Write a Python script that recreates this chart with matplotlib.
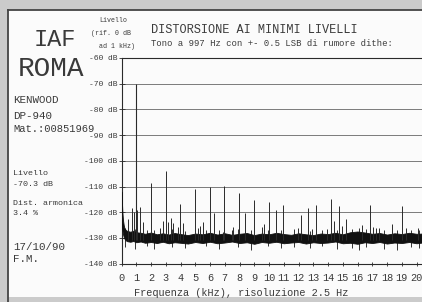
import matplotlib
matplotlib.use("Agg")
import matplotlib.pyplot as plt
from matplotlib.patches import Rectangle

plt.rcParams['font.family'] = ['Liberation Mono', 'DejaVu Sans Mono']

# --- data ---
fund_f = 0.997
fund_db = -70.3

# spurs: frequency (kHz) and peak level (dB)
spur_f = [0.46, 0.69, 0.85, 1.07, 1.25, 1.44, 1.994, 2.61, 2.79, 2.991, 3.18, 3.36,
          3.51, 3.81, 3.988, 4.15, 4.985, 5.16, 5.32, 5.5, 5.982, 6.27, 6.9, 6.979,
          7.47, 7.58, 7.976, 8.37, 8.973, 9.5, 9.68, 9.97, 10.47, 10.967, 11.96,
          12.17, 12.62, 12.94, 13.2, 13.95, 14.2, 14.43, 14.72, 14.97, 15.22, 16.28,
          16.87, 17.03, 17.25, 17.48, 18.32, 19.0, 19.29, 20.08, 20.35]
spur_db = [-122.8, -118.5, -119.8, -119.1, -117.9, -123.7, -108.5, -126.3, -123.5, -104.0, -123.7, -122.4,
           -124.3, -125.6, -117.0, -124.3, -111.0, -126.3, -125.4, -123.7, -110.3, -120.2, -127.6, -109.7,
           -127.0, -125.6, -112.7, -120.2, -115.4, -125.8, -124.5, -115.9, -119.1, -117.2, -126.0,
           -121.0, -118.2, -126.7, -117.2, -126.7, -115.0, -123.4, -117.6, -125.4, -122.5, -125.0,
           -117.2, -125.7, -126.3, -126.3, -124.5, -117.6, -126.3, -126.3, -120.6]

# noise floor envelope
noise_f = [0, 0.03, 0.06, 0.1, 0.15, 0.2, 0.3, 0.4, 0.6, 0.8, 1.0, 1.3, 1.6, 2.0, 2.4,
           2.8, 3.2, 3.6, 4.0, 4.5, 5.0, 5.5, 6.0, 6.5, 7.0, 7.5, 8.0, 8.5, 9.0, 9.5,
           10.0, 10.5, 11.0, 11.5, 12.0, 12.5, 13.0, 13.5, 14.0, 14.5, 15.0, 15.5, 16.0,
           16.5, 17.0, 17.5, 18.0, 18.5, 19.0, 19.5, 20.0, 20.4]
noise_hi = [-112.0, -116.0, -120.0, -123.0, -125.0, -126.2, -127.0, -127.3, -127.6, -127.2, -127.8, -128.0, -128.4, -127.9, -128.6,
            -128.2, -128.7, -128.1, -128.5, -128.9, -128.3, -128.6, -128.0, -128.7, -128.2, -128.8, -128.4, -128.1, -128.9, -128.3,
            -128.6, -128.0, -128.5, -128.8, -128.2, -128.6, -128.9, -128.3, -128.5, -128.0, -128.6, -127.8, -127.5,
            -127.9, -128.4, -128.1, -128.7, -128.2, -128.5, -128.0, -128.4, -128.3]
noise_lo = [-122.0, -125.0, -127.0, -128.5, -129.6, -130.3, -131.0, -131.3, -131.5, -131.2, -131.7, -131.4, -131.9, -131.6, -132.0,
            -131.5, -132.1, -131.7, -131.9, -132.2, -131.6, -132.0, -131.5, -132.1, -131.8, -131.4, -132.0, -131.7, -132.3, -131.6,
            -131.9, -131.5, -132.1, -131.8, -131.6, -132.2, -131.7, -132.0, -131.8, -131.4, -132.1, -131.9, -132.3,
            -131.7, -132.0, -131.6, -132.2, -131.8, -132.0, -131.6, -132.1, -131.8]

# isolated noise excursions
spike_f = [0.25, 0.9, 1.7, 2.2, 3.4, 4.3, 5.7, 6.6, 7.9, 8.8, 9.9, 10.8, 11.7, 12.8, 13.6,
           14.6, 15.6, 16.1, 16.6, 17.8, 18.7, 19.6, 20.2]
spike_top = [-126.0, -126.5, -127.0, -126.8, -126.6, -127.2, -126.9, -127.0, -126.7, -127.1, -126.8, -127.0, -126.6, -127.2, -126.9,
             -127.0, -126.4, -126.2, -126.7, -127.0, -126.8, -126.9, -127.1]
spike_bot = [-133.5, -134.2, -133.0, -134.5, -133.4, -134.0, -133.2, -134.3, -133.6, -134.8, -133.3, -134.1, -133.5, -134.0, -133.2,
             -134.4, -133.8, -134.6, -133.5, -134.2, -134.7, -133.4, -134.0]

yticks = [-140, -130, -120, -110, -100, -90, -80, -70, -60]
ytick_labels = ['-140 dB', '-130 dB', '-120 dB', '-110 dB', '-100 dB', '-90 dB', '-80 dB', '-70 dB', '-60 dB']
xticks = list(range(0, 21))
xtick_labels = [str(v) for v in xticks]

W, H = 422, 302
ink = '#2a2a2a'
txt = '#3a3a3a'


def fx(x):
    return x / W


def fy(y):
    return 1 - y / H


fig = plt.figure(figsize=(W / 100, H / 100), dpi=100)
fig.patch.set_facecolor('#cbcbcb')

# paper sheet with its frame
fig.patches.append(Rectangle((fx(7.5), fy(297)), 1.0, fy(10) - fy(297), transform=fig.transFigure,
                             facecolor='#fbfbfb', edgecolor='none', zorder=-5))
fig.add_artist(plt.Line2D([fx(7.5), fx(7.5)], [fy(10), 0], transform=fig.transFigure, color='#444444', lw=1.3))
fig.add_artist(plt.Line2D([fx(7.5), 1], [fy(10), fy(10)], transform=fig.transFigure, color='#444444', lw=1.3))

ax = fig.add_axes([fx(121.5), fy(263.6), (W - 121.5) / W, (263.6 - 58) / H])
ax.set_zorder(2)
ax.set_facecolor('none')
ax.set_xlim(0, 20.37)
ax.set_ylim(-140, -60)

for s in ['left', 'bottom', 'top']:
    ax.spines[s].set_color(ink)
    ax.spines[s].set_linewidth(0.8)
ax.spines['right'].set_visible(False)

ax.set_yticks(yticks)
ax.set_yticklabels(ytick_labels, fontsize=5.8, color=txt)
ax.set_xticks(xticks)
ax.set_xticklabels(xtick_labels, fontsize=7.4, color=txt)
ax.tick_params(axis='y', direction='inout', length=4, width=0.6, color=ink, pad=1)
ax.tick_params(axis='x', direction='inout', length=3, width=0.6, color=ink, pad=5)
ax.grid(axis='y', color='#666666', lw=0.6)
ax.set_axisbelow(True)

# noise floor
ax.fill_between(noise_f, noise_lo, noise_hi, color='#111111', lw=0.6, zorder=3)
ax.vlines(spike_f, spike_bot, spike_top, color='#111111', lw=0.6, zorder=3)

# spurs and fundamental
ax.vlines(spur_f, -131, spur_db, color=ink, lw=0.7, zorder=4)
ax.vlines([fund_f], -131, [fund_db], color=ink, lw=0.8, zorder=4)

# texts
fig.text(fx(151), fy(30), 'DISTORSIONE AI MINIMI LIVELLI', fontsize=8.6, color=txt, va='center')
fig.text(fx(151), fy(43.5), 'Tono a 997 Hz con +- 0.5 LSB di rumore dithe:', fontsize=6.4, color=txt, va='center')

fig.text(fx(113), fy(21), 'Livello', fontsize=4.8, color=txt, ha='center', va='center')
fig.text(fx(111.5), fy(33.5), '(rif. 0 dB', fontsize=4.8, color=txt, ha='center', va='center')
fig.text(fx(117), fy(46.5), 'ad 1 kHz)', fontsize=4.8, color=txt, ha='center', va='center')

fig.text(fx(55), fy(39), 'IAF', fontsize=17, color=txt, ha='center', va='center')
fig.text(fx(50.5), fy(69), 'ROMA', fontsize=20, color=txt, ha='center', va='center')

fig.text(fx(13), fy(100), 'KENWOOD', fontsize=7.8, color=txt, va='center')
fig.text(fx(13), fy(116), 'DP-940', fontsize=7.8, color=txt, va='center')
fig.text(fx(13), fy(129), 'Mat.:00851969', fontsize=7.6, color=txt, va='center')

fig.text(fx(13), fy(174), 'Livello', fontsize=6, color=txt, va='center')
fig.text(fx(13), fy(184.5), '-70.3 dB', fontsize=6, color=txt, va='center')
fig.text(fx(13), fy(203.5), 'Dist. armonica', fontsize=6, color=txt, va='center')
fig.text(fx(13), fy(213.5), '3.4 %', fontsize=6, color=txt, va='center')

fig.text(fx(13), fy(247), '17/10/90', fontsize=7.8, color=txt, va='center')
fig.text(fx(13), fy(259.5), 'F.M.', fontsize=7.8, color=txt, va='center')

fig.text(fx(241.5), fy(292.5), 'Frequenza (kHz), risoluzione 2.5 Hz', fontsize=7.4, color=txt,
         ha='center', va='center')

fig.savefig('out.png', dpi=100, facecolor=fig.get_facecolor())
